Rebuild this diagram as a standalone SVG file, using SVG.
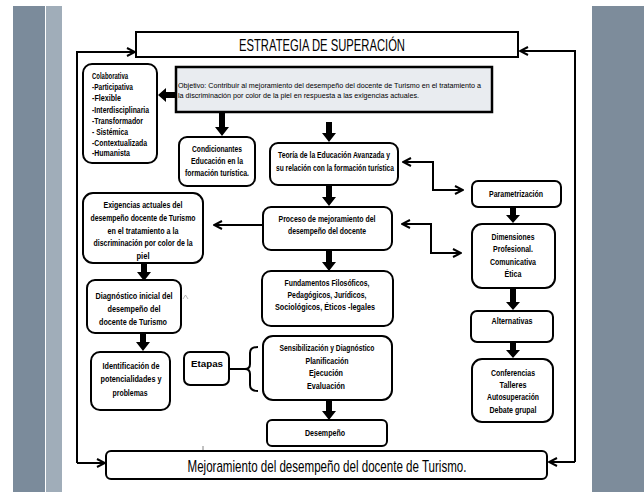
<svg xmlns="http://www.w3.org/2000/svg" width="644" height="492" viewBox="0 0 644 492">
<defs>
<style>
.b{fill:#fff;stroke:#000;stroke-width:2}
.t{font-family:"Liberation Sans",Arial,sans-serif;font-weight:bold;font-size:8.5px;fill:#000}
.n{font-family:"Liberation Sans",Arial,sans-serif;font-size:8px;fill:#000}
.c{text-anchor:middle}
.ln{fill:none;stroke:#000;stroke-width:2}
.blk{fill:#000}
</style>
<marker id="ah2" viewBox="0 0 10 10" refX="9" refY="5" markerWidth="10" markerHeight="10" orient="auto-start-reverse" markerUnits="userSpaceOnUse">
<path d="M1,1 L9,5 L1,9" fill="none" stroke="#000" stroke-width="2"/>
</marker>
</defs>
<rect x="0" y="0" width="644" height="492" fill="#fff"/>
<rect x="13" y="6" width="32" height="486" fill="#7b8b9b"/>
<rect x="46" y="6" width="16" height="486" fill="#a0adb9"/>
<rect x="592" y="6" width="52" height="486" fill="#7d8c9b"/>

<g id="connectors">
<path class="ln" d="M77,463 V52 H135" marker-end="url(#ah2)"/>
<path class="ln" d="M77,463 H105" marker-end="url(#ah2)"/>
<path class="ln" d="M575,462 V51 H520" marker-end="url(#ah2)"/>
<path class="ln" d="M575,462 H549" marker-end="url(#ah2)"/>
<path class="ln" d="M263,225 H214" marker-end="url(#ah2)"/>
<path class="ln" d="M403,162 H433 V190 H463" marker-start="url(#ah2)" marker-end="url(#ah2)"/>
<path class="ln" d="M402,224 H431 V253 H461" marker-start="url(#ah2)" marker-end="url(#ah2)"/>
<path class="ln" d="M229,369 H245 M258,347 Q250,347 250,353 V364 Q250,369 245,369 Q250,369 250,374 V385 Q250,391 258,391"/>
<polygon class="blk" points="176,92 166,92 166,88 158,95 166,102 166,98 176,98"/>
<polygon class="blk" points="219,113 225,113 225,127 229,127 222,136 215,127 219,127"/>
<polygon class="blk" points="326,122 332,122 332,133 336,133 329,142 322,133 326,133"/>
<polygon class="blk" points="326,186 332,186 332,197 336,197 329,206 322,197 326,197"/>
<polygon class="blk" points="326,251 332,251 332,262 336,262 329,271 322,262 326,262"/>
<polygon class="blk" points="141,264 147,264 147,272 151,272 144,281 137,272 141,272"/>
<polygon class="blk" points="140,334 146,334 146,342 150,342 143,351 136,342 140,342"/>
<polygon class="blk" points="326,401 332,401 332,411 336,411 329,420 322,411 326,411"/>
<polygon class="blk" points="510,208 516,208 516,215 520,215 513,223 506,215 510,215"/>
<polygon class="blk" points="510,289 516,289 516,302 520,302 513,310 506,302 510,302"/>
<polygon class="blk" points="510,343 516,343 516,350 520,350 513,358 506,350 510,350"/>
<path d="M183,299 L185.5,295 L188,299" fill="none" stroke="#999" stroke-width="0.7"/>
<path d="M203,446 V463" fill="none" stroke="#666" stroke-width="0.8"/>
</g>

<g id="titulo">
<rect x="136" y="32" width="382" height="25" fill="#fff" stroke="#000" stroke-width="2"/>
<text x="322" y="51" class="c" font-family="Liberation Sans,Arial,sans-serif" font-size="17" textLength="166" lengthAdjust="spacingAndGlyphs">ESTRATEGIA  DE  SUPERACIÓN</text>
</g>

<g id="colaborativa">
<rect class="b" x="83" y="64" width="74" height="99" rx="9"/>
<text class="t" x="92" y="79" textLength="36" lengthAdjust="spacingAndGlyphs">Colaborativa</text>
<text class="t" x="92" y="90" textLength="41" lengthAdjust="spacingAndGlyphs">-Participativa</text>
<text class="t" x="92" y="101" textLength="29" lengthAdjust="spacingAndGlyphs">-Flexible</text>
<text class="t" x="92" y="113" textLength="57" lengthAdjust="spacingAndGlyphs">-Interdisciplinaria</text>
<text class="t" x="92" y="124" textLength="51" lengthAdjust="spacingAndGlyphs">-Transformador</text>
<text class="t" x="92" y="135" textLength="36" lengthAdjust="spacingAndGlyphs">- Sistémica</text>
<text class="t" x="92" y="146" textLength="55" lengthAdjust="spacingAndGlyphs">-Contextualizada</text>
<text class="t" x="92" y="156" textLength="38" lengthAdjust="spacingAndGlyphs">-Humanista</text>
</g>

<g id="objetivo">
<rect x="176" y="67" width="316" height="45" fill="#e9ecf0" stroke="#000" stroke-width="2.5"/>
<text class="n" x="178" y="88" textLength="303" lengthAdjust="spacingAndGlyphs">Objetivo: Contribuir al mejoramiento del desempeño del docente de Turismo en el tratamiento a</text>
<text class="n" x="178" y="98" textLength="241" lengthAdjust="spacingAndGlyphs">la discriminación por color de la piel en respuesta a las exigencias actuales.</text>
</g>

<g id="condicionantes">
<rect class="b" x="179" y="137" width="76" height="49" rx="8"/>
<text class="t c" x="217" y="152" textLength="50" lengthAdjust="spacingAndGlyphs">Condicionantes</text>
<text class="t c" x="217" y="164" textLength="52" lengthAdjust="spacingAndGlyphs">Educación en la</text>
<text class="t c" x="217" y="176" textLength="64" lengthAdjust="spacingAndGlyphs">formación turística.</text>
</g>

<g id="teoria">
<rect class="b" x="270" y="143" width="128" height="42" rx="8"/>
<text class="t c" x="334" y="158" textLength="112" lengthAdjust="spacingAndGlyphs">Teoría de la Educación Avanzada y</text>
<text class="t c" x="335" y="171" textLength="118" lengthAdjust="spacingAndGlyphs">su relación con la formación turística</text>
</g>

<g id="proceso">
<rect class="b" x="263" y="207" width="129" height="43" rx="8"/>
<text class="t c" x="327" y="222" textLength="97" lengthAdjust="spacingAndGlyphs">Proceso de mejoramiento del</text>
<text class="t c" x="327" y="234" textLength="78" lengthAdjust="spacingAndGlyphs">desempeño del docente</text>
</g>

<g id="exigencias">
<rect class="b" x="83" y="193" width="120" height="70" rx="10"/>
<text class="t c" x="143" y="208" textLength="79" lengthAdjust="spacingAndGlyphs">Exigencias actuales del</text>
<text class="t c" x="143" y="221" textLength="105" lengthAdjust="spacingAndGlyphs">desempeño docente de Turismo</text>
<text class="t c" x="143" y="234" textLength="71" lengthAdjust="spacingAndGlyphs">en el tratamiento a la</text>
<text class="t c" x="143" y="246" textLength="99" lengthAdjust="spacingAndGlyphs">discriminación por color de la</text>
<text class="t c" x="143" y="259" textLength="13" lengthAdjust="spacingAndGlyphs">piel</text>
</g>

<g id="diagnostico">
<rect class="b" x="87" y="280" width="94" height="53" rx="8"/>
<text class="t c" x="134" y="299" textLength="77" lengthAdjust="spacingAndGlyphs">Diagnóstico  inicial del</text>
<text class="t c" x="134" y="312" textLength="53" lengthAdjust="spacingAndGlyphs">desempeño  del</text>
<text class="t c" x="133" y="325" textLength="68" lengthAdjust="spacingAndGlyphs">docente  de Turismo</text>
</g>

<g id="identificacion">
<rect class="b" x="91" y="352" width="79" height="58" rx="9"/>
<text class="t c" x="131" y="369" textLength="57" lengthAdjust="spacingAndGlyphs">Identificación  de</text>
<text class="t c" x="131" y="382" textLength="61" lengthAdjust="spacingAndGlyphs">potencialidades  y</text>
<text class="t c" x="130" y="396" textLength="35" lengthAdjust="spacingAndGlyphs">problemas</text>
</g>

<g id="etapas">
<rect class="b" x="184" y="352" width="45" height="33" rx="6"/>
<text class="t c" x="207" y="367" font-size="10" textLength="32" lengthAdjust="spacingAndGlyphs">Etapas</text>
</g>

<g id="fundamentos">
<rect class="b" x="262" y="271" width="131" height="55" rx="9"/>
<text class="t c" x="327" y="286" textLength="85" lengthAdjust="spacingAndGlyphs">Fundamentos Filosóficos,</text>
<text class="t c" x="327" y="298" textLength="79" lengthAdjust="spacingAndGlyphs">Pedagógicos, Jurídicos,</text>
<text class="t c" x="325" y="310" textLength="100" lengthAdjust="spacingAndGlyphs">Sociológicos, Éticos -legales</text>
</g>

<g id="sensibilizacion">
<rect class="b" x="263" y="336" width="129" height="64" rx="10"/>
<text class="t c" x="327" y="351" textLength="95" lengthAdjust="spacingAndGlyphs">Sensibilización y Diagnóstico</text>
<text class="t c" x="327" y="364" textLength="43" lengthAdjust="spacingAndGlyphs">Planificación</text>
<text class="t c" x="326" y="376" textLength="34" lengthAdjust="spacingAndGlyphs">Ejecución</text>
<text class="t c" x="326" y="389" textLength="38" lengthAdjust="spacingAndGlyphs">Evaluación</text>
</g>

<g id="desempeno">
<rect class="b" x="267" y="420" width="120" height="26" rx="5"/>
<text class="t c" x="325" y="436" textLength="40" lengthAdjust="spacingAndGlyphs">Desempeño</text>
</g>

<g id="parametrizacion">
<rect class="b" x="472" y="181" width="89" height="26" rx="6"/>
<text class="t c" x="516" y="197" textLength="54" lengthAdjust="spacingAndGlyphs">Parametrización</text>
</g>

<g id="dimensiones">
<rect class="b" x="472" y="224" width="83" height="64" rx="10"/>
<text class="t c" x="513" y="240" textLength="43" lengthAdjust="spacingAndGlyphs">Dimensiones</text>
<text class="t c" x="513" y="252" textLength="40" lengthAdjust="spacingAndGlyphs">Profesional.</text>
<text class="t c" x="513" y="265" textLength="46" lengthAdjust="spacingAndGlyphs">Comunicativa</text>
<text class="t c" x="513" y="277" textLength="17" lengthAdjust="spacingAndGlyphs">Ética</text>
</g>

<g id="alternativas">
<rect class="b" x="471" y="311" width="82" height="31" rx="6"/>
<text class="t c" x="512" y="324" textLength="41" lengthAdjust="spacingAndGlyphs">Alternativas</text>
</g>

<g id="conferencias">
<rect class="b" x="472" y="359" width="81" height="63" rx="10"/>
<text class="t c" x="513" y="376" textLength="44" lengthAdjust="spacingAndGlyphs">Conferencias</text>
<text class="t c" x="513" y="388" textLength="27" lengthAdjust="spacingAndGlyphs">Talleres</text>
<text class="t c" x="513" y="400" textLength="52" lengthAdjust="spacingAndGlyphs">Autosuperación</text>
<text class="t c" x="513" y="413" textLength="47" lengthAdjust="spacingAndGlyphs">Debate grupal</text>
</g>

<g id="mejoramiento">
<rect class="b" x="106" y="451" width="441" height="28" rx="5"/>
<text x="327" y="472" class="c" font-family="Liberation Sans,Arial,sans-serif" font-size="17" textLength="279" lengthAdjust="spacingAndGlyphs">Mejoramiento del desempeño del docente de Turismo.</text>
</g>
</svg>
